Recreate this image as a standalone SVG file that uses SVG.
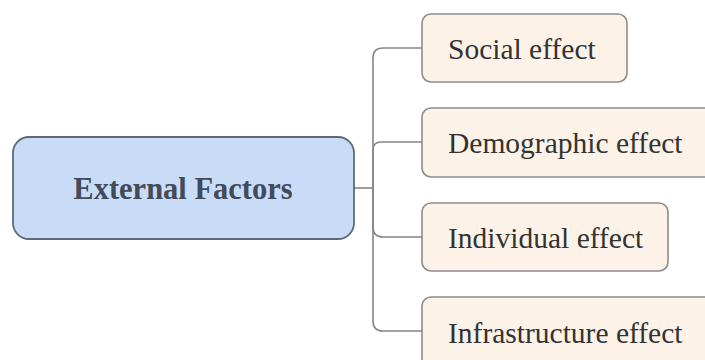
<svg xmlns="http://www.w3.org/2000/svg" width="705" height="360" viewBox="0 0 705 360">
<style>
.conn{fill:none;stroke:#858585;stroke-width:1.6}
.child{fill:#fcf2e8;stroke:#8c8c8c;stroke-width:1.6}
.ctext{font-family:"Liberation Serif","Times New Roman",serif;font-size:29.5px;fill:#333333}
.root{fill:#c8dcf8;stroke:#5e6a78;stroke-width:1.8}
.rtext{font-family:"Liberation Serif","Times New Roman",serif;font-size:30.5px;font-weight:bold;fill:#434b5a}
</style>
<rect width="705" height="360" fill="#ffffff"/>
<g id="connectors">
<path class="conn" d="M354,188 H373"/>
<path class="conn" d="M373,188 V58 Q373,48 383,48 H422"/>
<path class="conn" d="M373,188 V150 Q373,142 381,142 H422"/>
<path class="conn" d="M373,188 V227 Q373,237 383,237 H422"/>
<path class="conn" d="M373,188 V321 Q373,331 383,331 H422"/>
</g>
<g id="root">
<rect class="root" x="13" y="137" width="341" height="102" rx="16"/>
<text class="rtext" x="183" y="199" text-anchor="middle">External Factors</text>
</g>
<g id="social">
<rect class="child" x="422" y="14" width="205" height="68" rx="9"/>
<text class="ctext" x="448" y="59">Social effect</text>
</g>
<g id="demographic">
<rect class="child" x="422" y="108" width="300" height="69" rx="9"/>
<text class="ctext" x="448" y="153">Demographic effect</text>
</g>
<g id="individual">
<rect class="child" x="422" y="203" width="246" height="68" rx="9"/>
<text class="ctext" x="448" y="248">Individual effect</text>
</g>
<g id="infrastructure">
<rect class="child" x="422" y="297" width="300" height="80" rx="9"/>
<text class="ctext" x="448" y="343">Infrastructure effect</text>
</g>
</svg>
